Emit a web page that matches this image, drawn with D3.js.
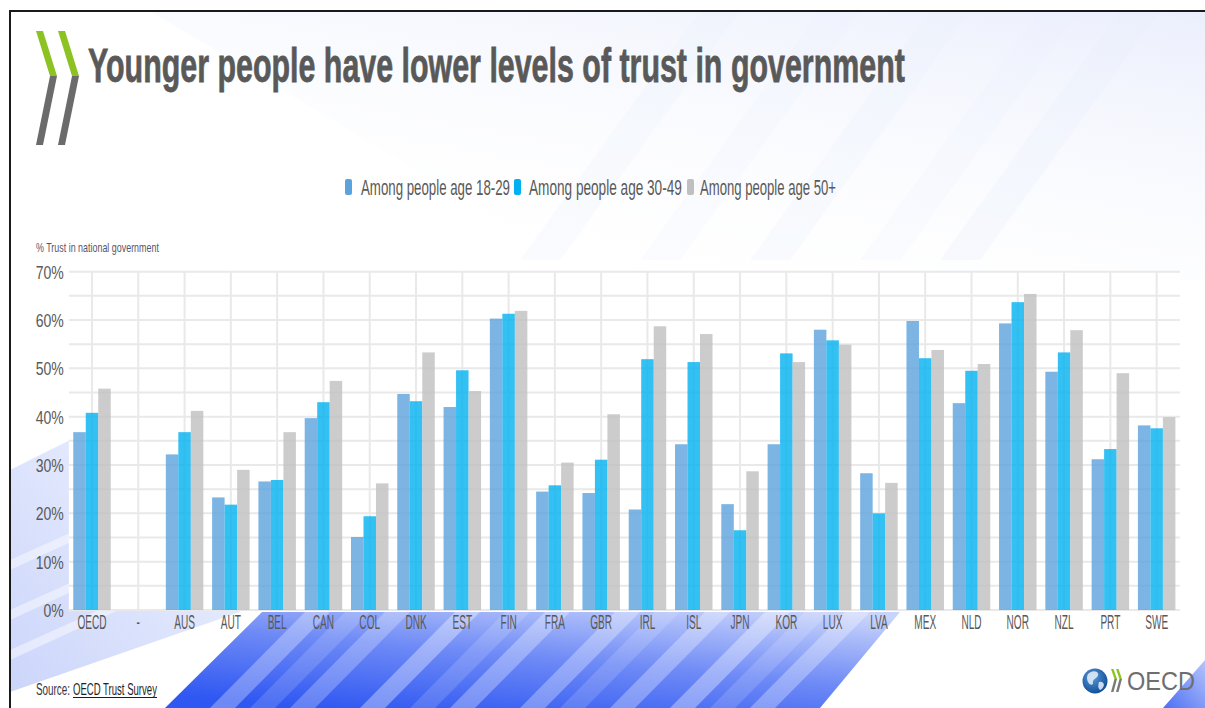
<!DOCTYPE html>
<html>
<head>
<meta charset="utf-8">
<script src="https://cdn.jsdelivr.net/npm/d3@7/dist/d3.min.js"></script>
<style>
  html, body { margin: 0; padding: 0; background: #ffffff; }
  svg { display: block; }
  text { font-family: "Liberation Sans Narrow", "Liberation Sans", Arial, sans-serif; }
</style>
</head>
<body>
<svg id="chart" width="1205" height="708"></svg>
<script>
// ---------------- DATA ----------------
const categories = ["OECD", "-", "AUS", "AUT", "BEL", "CAN", "COL", "DNK", "EST", "FIN", "FRA", "GBR",
  "IRL", "ISL", "JPN", "KOR", "LUX", "LVA", "MEX", "NLD", "NOR", "NZL", "PRT", "SWE"];
const seriesNames = ["Among people age 18-29", "Among people age 30-49", "Among people age 50+"];
const age18to29 = [36.8, null, 32.2, 23.3, 26.6, 39.7, 15.1, 44.7, 42.0, 60.3, 24.5, 24.2,
  20.8, 34.3, 21.9, 34.3, 58.0, 28.3, 59.8, 42.8, 59.3, 49.3, 31.2, 38.2];
const age30to49 = [40.8, null, 36.8, 21.8, 26.9, 43.0, 19.4, 43.2, 49.6, 61.3, 25.8, 31.1,
  51.9, 51.3, 16.5, 53.1, 55.8, 20.0, 52.1, 49.5, 63.7, 53.3, 33.3, 37.6];
const age50plus = [45.8, null, 41.2, 29.0, 36.8, 47.4, 26.2, 53.3, 45.3, 61.9, 30.5, 40.5,
  58.7, 57.1, 28.7, 51.3, 54.9, 26.3, 53.8, 50.9, 65.4, 57.9, 49.0, 39.9];
const yTickValues = [0, 10, 20, 30, 40, 50, 60, 70];
const yGridValues = [0, 5, 10, 15, 20, 25, 30, 35, 40, 45, 50, 55, 60, 65, 70];
const titleText = "Younger people have lower levels of trust in government";
const yAxisTitle = "% Trust in national government";
const sourceLabel = "Source:";
const sourceLink = "OECD Trust Survey";

// ---------------- STYLE ----------------
const colors = ["#5ba3dd", "#00b0f0", "#bfbfbf"];
const textColor = "#595959";
const gridColor = "#e9e9e9";

const svg = d3.select("#chart");
const defs = svg.append("defs");

// fit a text horizontally to a width by scaling (condensed look)
function fitText(sel, x, y, width) {
  const w = sel.node().getComputedTextLength();
  sel.attr("x", 0).attr("y", 0)
    .attr("transform", `translate(${x},${y}) scale(${width / w},1)`);
  return sel;
}

// ---------------- BACKGROUND DECOR ----------------
defs.append("clipPath").attr("id", "frameClip")
  .append("rect").attr("x", 10).attr("y", 11).attr("width", 1195).attr("height", 697);

function lg(id, stops, x1, y1, x2, y2) {
  const g = defs.append("linearGradient").attr("id", id)
    .attr("x1", x1).attr("y1", y1).attr("x2", x2).attr("y2", y2);
  stops.forEach(s => g.append("stop").attr("offset", s[0]).attr("stop-color", s[1]).attr("stop-opacity", s[2] == null ? 1 : s[2]));
}
lg("gTop", [[0, "#e6ebfc", 1], [1, "#ffffff", 0]], "1", "0", "0.3", "1");
lg("gStrong", [[0, "#2f57f2"], [0.5, "#6f8bf6"], [1, "#c9d4fb"]], "0.2", "1", "0.9", "0");
lg("gLight", [[0, "#c6d1fa"], [1, "#eef2fe"]], "0", "1", "1", "0");
lg("gCorner", [[0, "#4c6ff4"], [1, "#b6c4fa"]], "0", "1", "1", "0");

const bg = svg.append("g").attr("clip-path", "url(#frameClip)");
bg.append("rect").attr("x", 10).attr("y", 11).attr("width", 1195).attr("height", 697).attr("fill", "#ffffff");
// faint top wash
bg.append("polygon").attr("points", "150,11 1205,11 1205,280 600,280").attr("fill", "url(#gTop)").attr("opacity", 0.8);
[[700, 0.25], [820, 0.2], [930, 0.25], [1040, 0.2], [1120, 0.3]].forEach(([x, o]) => {
  bg.append("polygon")
    .attr("points", `${x},11 ${x + 40},11 ${x - 140},260 ${x - 180},260`)
    .attr("fill", "#e9eefd").attr("opacity", o);
});
// light left band
bg.append("polygon").attr("points", "10,470 70,440 240,612 10,692")
  .attr("fill", "url(#gLight)").attr("opacity", 0.9);
[[10, 560], [10, 610], [10, 650]].forEach(([x, y]) => {
  bg.append("polygon").attr("points", `${x},${y} ${x + 200},${y - 90} ${x + 200},${y - 82} ${x},${y + 10}`)
    .attr("fill", "#ffffff").attr("opacity", 0.45);
});
// strong band lower middle
bg.append("polygon").attr("points", "165,708 262,612 900,612 820,708").attr("fill", "url(#gStrong)");
[[300, 0.3], [340, 0.15], [380, 0.25], [450, 0.35], [500, 0.15], [540, 0.3], [610, 0.3], [650, 0.15], [700, 0.3], [760, 0.35], [800, 0.15], [840, 0.3]].forEach(([x, o]) => {
  bg.append("polygon")
    .attr("points", `${x - 90},708 ${x - 65},708 ${x + 30},612 ${x + 5},612`)
    .attr("fill", "#ffffff").attr("opacity", o);
});
// bottom-right corner stripe
bg.append("polygon").attr("points", "1163,708 1205,660 1205,708").attr("fill", "url(#gCorner)");

// frame border
svg.append("path").attr("d", "M10,708 L10,11 L1205,11")
  .attr("fill", "none").attr("stroke", "#1a1a1a").attr("stroke-width", 2);

// ---------------- LOGO (top-left chevrons) ----------------
const logo = svg.append("g");
[0, 22].forEach(dx => {
  logo.append("polygon").attr("points", `${36 + dx},31 ${43 + dx},31 ${57 + dx},76 ${50 + dx},76`).attr("fill", "#8cc221");
  logo.append("polygon").attr("points", `${50 + dx},76 ${57 + dx},76 ${43 + dx},145 ${36 + dx},145`).attr("fill", "#6b6b6b");
});

// ---------------- TITLE ----------------
fitText(svg.append("text").attr("font-size", 49).attr("font-weight", "bold").attr("fill", textColor)
  .attr("stroke", textColor).attr("stroke-width", 0.8)
  .text(titleText), 88, 82, 817);

// ---------------- SCALES ----------------
const plot = { left: 68.85, right: 1179.8, top: 271.7, bottom: 610 };
const x = d3.scaleBand().domain(categories).range([plot.left, plot.right]).paddingInner(0.19).paddingOuter(0.095);
const xs = d3.scaleBand().domain([0, 1, 2]).range([0, x.bandwidth()]);
const y = d3.scaleLinear().domain([0, 70]).range([plot.bottom, plot.top]);

// plot background
svg.append("rect").attr("x", plot.left).attr("y", plot.top - 1).attr("width", plot.right - plot.left)
  .attr("height", plot.bottom - plot.top + 2).attr("fill", "#ffffff");

// grid
const grid = svg.append("g");
grid.selectAll("line.h").data(yGridValues).join("line").attr("class", "h")
  .attr("x1", plot.left).attr("x2", plot.right)
  .attr("y1", d => y(d)).attr("y2", d => y(d))
  .attr("stroke", gridColor).attr("stroke-width", 2);
grid.selectAll("line.v").data(categories).join("line").attr("class", "v")
  .attr("x1", d => x(d) + x.bandwidth() / 2).attr("x2", d => x(d) + x.bandwidth() / 2)
  .attr("y1", plot.top).attr("y2", plot.bottom)
  .attr("stroke", gridColor).attr("stroke-width", 2);

// bars
const seriesData = [age18to29, age30to49, age50plus];
seriesData.forEach((vals, si) => {
  svg.append("g").selectAll("rect")
    .data(categories.map((c, i) => ({ c, v: vals[i] })).filter(d => d.v != null))
    .join("rect")
    .attr("x", d => x(d.c) + xs(si))
    .attr("width", xs.bandwidth())
    .attr("y", d => y(d.v))
    .attr("height", d => y(0) - y(d.v))
    .attr("fill", colors[si]).attr("fill-opacity", 0.8);
});

// y axis labels
const yAxis = svg.append("g").attr("transform", `translate(${plot.left - 5},0)`)
  .call(d3.axisLeft(y).tickValues(yTickValues).tickFormat(d => d + "%").tickSize(0).tickPadding(0));
yAxis.select(".domain").remove();
yAxis.selectAll("text")
  .attr("font-size", 18).attr("fill", textColor)
  .attr("font-family", "Liberation Sans, Arial, sans-serif")
  .attr("x", 0).attr("dy", "0.36em")
  .attr("transform", "scale(0.78,1)");

// x axis labels
const xAxis = svg.append("g").attr("transform", `translate(0,${plot.bottom})`)
  .call(d3.axisBottom(x).tickSize(0).tickPadding(0));
xAxis.select(".domain").remove();
xAxis.selectAll("text")
  .attr("font-size", 21).attr("fill", textColor)
  .attr("font-family", "Liberation Sans, Arial, sans-serif")
  .attr("y", 0).attr("dy", "0.9em")
  .attr("transform", "scale(0.48,1)");

// y-axis title
fitText(svg.append("text").attr("font-size", 12).attr("fill", "#5a5468").text(yAxisTitle), 36, 252, 123);

// legend
const legendItems = [
  { sx: 345, tx: 361, tw: 149 },
  { sx: 514, tx: 529, tw: 153 },
  { sx: 687, tx: 700, tw: 136 }
];
const legend = svg.append("g");
seriesNames.forEach((name, i) => {
  legend.append("rect").attr("x", legendItems[i].sx).attr("y", 179).attr("width", 7).attr("height", 16)
    .attr("rx", 2).attr("fill", colors[i]);
  fitText(legend.append("text").attr("font-size", 22).attr("fill", textColor).text(name),
    legendItems[i].tx, 195, legendItems[i].tw);
});

// source
fitText(svg.append("text").attr("font-size", 16).attr("fill", "#34344a").text(sourceLabel), 36, 695, 34);
fitText(svg.append("text").attr("font-size", 16).attr("fill", "#1e1e1e").text(sourceLink), 73, 695, 84);
svg.append("line").attr("x1", 73).attr("x2", 157).attr("y1", 697.5).attr("y2", 697.5)
  .attr("stroke", "#1e1e1e").attr("stroke-width", 1);

// OECD logo bottom-right
const rg = defs.append("radialGradient").attr("id", "globe").attr("cx", "0.4").attr("cy", "0.35").attr("r", "0.7");
rg.append("stop").attr("offset", 0).attr("stop-color", "#5a9ad8");
rg.append("stop").attr("offset", 1).attr("stop-color", "#0d4a94");
const ol = svg.append("g");
ol.append("circle").attr("cx", 1095).attr("cy", 681).attr("r", 12.5).attr("fill", "url(#globe)");
ol.append("path").attr("d", "M1088,674 q4,-4 9,-2 q3,3 -1,6 q-4,2 -3,6 q-3,2 -5,-2 q-2,-4 0,-8 Z").attr("fill", "#e8f0fa").attr("opacity", 0.85);
ol.append("path").attr("d", "M1099,682 q4,-1 5,3 q-1,4 -4,5 q-3,-3 -1,-8 Z").attr("fill", "#e8f0fa").attr("opacity", 0.85);
[1111, 1116].forEach(cx => {
  ol.append("polygon").attr("points", `${cx},669 ${cx + 2.5},669 ${cx + 6},679 ${cx + 3.5},679`).attr("fill", "#8cc221");
  ol.append("polygon").attr("points", `${cx + 3.5},679 ${cx + 6},679 ${cx + 2.5},692 ${cx},692`).attr("fill", "#7a7a7a");
});
fitText(ol.append("text").attr("font-size", 25).attr("fill", "#6d6e70")
  .attr("font-family", "Liberation Sans, Arial, sans-serif").text("OECD"), 1127, 690, 68);
</script>
</body>
</html>
